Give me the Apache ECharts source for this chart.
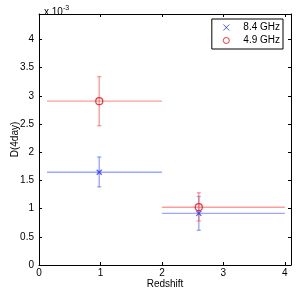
<!DOCTYPE html>
<html><head><meta charset="utf-8">
<script src="https://cdn.jsdelivr.net/npm/echarts@6/dist/echarts.min.js"></script>
<style>html,body{margin:0;padding:0;background:#fff}#c{width:304px;height:298px}</style>
</head><body><div id="c"></div>
<script>
const seriesNames = ['8.4 GHz', '4.9 GHz'];
const redshift = [0.98, 2.6];
const binLow = [0.13, 2.0];
const binHigh = [2.0, 4.0];
const d84 = [1.645, 0.915];
const d84Low = [1.385, 0.615];
const d84High = [1.915, 1.215];
const d49 = [2.905, 1.025];
const d49Low = [2.47, 0.78];
const d49High = [3.34, 1.28];
const xTicks = [0, 1, 2, 3, 4];
const yTicks = [0, 0.5, 1, 1.5, 2, 2.5, 3, 3.5, 4];

const font = 'Liberation Sans, Arial, sans-serif';
const chart = echarts.init(document.getElementById('c'));

function errRender(color) {
  return function (params, api) {
    const x = api.value(0), y = api.value(1), xl = api.value(2), xh = api.value(3), yl = api.value(4), yh = api.value(5);
    const pL = api.coord([xl, y]), pH = api.coord([xh, y]);
    const pB = api.coord([x, yl]), pT = api.coord([x, yh]);
    const st = { stroke: color, lineWidth: 1.4 };
    const cw = 2;
    return { type: 'group', children: [
      { type: 'line', shape: { x1: pL[0], y1: pL[1], x2: pH[0], y2: pH[1] }, style: st },
      { type: 'line', shape: { x1: pB[0], y1: pB[1], x2: pT[0], y2: pT[1] }, style: st },
      { type: 'line', shape: { x1: pB[0]-cw, y1: pB[1], x2: pB[0]+cw, y2: pB[1] }, style: st },
      { type: 'line', shape: { x1: pT[0]-cw, y1: pT[1], x2: pT[0]+cw, y2: pT[1] }, style: st }
    ]};
  };
}

const blueErr = redshift.map((x, i) => [x, d84[i], binLow[i], binHigh[i], d84Low[i], d84High[i]]);
const redErr = redshift.map((x, i) => [x, d49[i], binLow[i], binHigh[i], d49Low[i], d49High[i]]);

const xMin = 0, xMax = 4.1, yMin = 0, yMax = 4.45;
const axCommon = {
  axisLine: { show: true, onZero: false, lineStyle: { color: '#000', width: 1 } },
  axisTick: { show: true, inside: true, length: 3, lineStyle: { color: '#000' } },
  splitLine: { show: false }
};
const xPath = 'path://M0,0L10,10M10,0L0,10';

chart.setOption({
  animation: false,
  backgroundColor: '#fff',
  grid: { left: 39, right: 13, top: 14, bottom: 33, containLabel: false, outerBoundsMode: 'none' },
  title: {
    text: 'x 10{sup|-3}', left: 39, top: 0,
    textStyle: { fontFamily: font, fontSize: 10, fontWeight: 'normal', color: '#000',
      rich: { sup: { fontSize: 7, verticalAlign: 'top', padding: [0, 0, 8, 0], fontFamily: font, color: '#000' } } }
  },
  legend: {
    right: 21, top: 19, orient: 'vertical', itemGap: 2, itemWidth: 24, itemHeight: 6,
    padding: [3, 3, 3, 9],
    borderColor: '#000', borderWidth: 1, backgroundColor: '#fff',
    textStyle: { fontFamily: font, fontSize: 10, color: '#000' },
    data: [
      { name: seriesNames[0], icon: xPath, itemStyle: { color: 'none', borderColor: '#2030ff', borderWidth: 1 } },
      { name: seriesNames[1], icon: 'circle', itemStyle: { color: 'none', borderColor: '#ff0000', borderWidth: 1 } }
    ]
  },
  xAxis: [
    Object.assign({ type: 'value', min: xMin, max: xMax, interval: 1, position: 'bottom',
      name: 'Redshift', nameLocation: 'middle', nameGap: 14, nameMoveOverlap: false,
      nameTextStyle: { fontFamily: font, fontSize: 10, color: '#000' },
      axisLabel: { fontFamily: font, fontSize: 10, color: '#000', margin: 3, showMaxLabel: false,
        formatter: v => xTicks.includes(v) ? String(v) : '' } }, axCommon),
    Object.assign({ type: 'value', min: xMin, max: xMax, interval: 1, position: 'top',
      axisLabel: { show: false } }, axCommon)
  ],
  yAxis: [
    Object.assign({ type: 'value', min: yMin, max: yMax, interval: 0.5, position: 'left',
      name: 'D(4day)', nameLocation: 'middle', nameGap: 19, nameRotate: 90, nameMoveOverlap: false,
      nameTextStyle: { fontFamily: font, fontSize: 10, color: '#000' },
      axisLabel: { fontFamily: font, fontSize: 10, color: '#000', margin: 5, showMaxLabel: false,
        formatter: v => yTicks.includes(v) ? String(v) : '' } }, axCommon),
    Object.assign({ type: 'value', min: yMin, max: yMax, interval: 0.5, position: 'right',
      axisLabel: { show: false } }, axCommon)
  ],
  series: [
    { name: seriesNames[0] + ' err', type: 'custom', renderItem: errRender('rgba(90,110,255,0.6)'), data: blueErr,
      encode: { x: 0, y: 1 }, z: 2, silent: true },
    { name: seriesNames[1] + ' err', type: 'custom', renderItem: errRender('rgba(255,90,90,0.6)'), data: redErr,
      encode: { x: 0, y: 1 }, z: 3, silent: true },
    { name: seriesNames[0], type: 'scatter', symbol: xPath, symbolSize: 5,
      itemStyle: { color: 'none', borderColor: '#2030ff', borderWidth: 1.2 },
      data: redshift.map((x, i) => [x, d84[i]]), z: 5 },
    { name: seriesNames[1], type: 'scatter', symbol: 'circle', symbolSize: 7,
      itemStyle: { color: 'none', borderColor: '#ff0000', borderWidth: 1.2 },
      data: redshift.map((x, i) => [x, d49[i]]), z: 6 }
  ]
});
</script></body></html>
